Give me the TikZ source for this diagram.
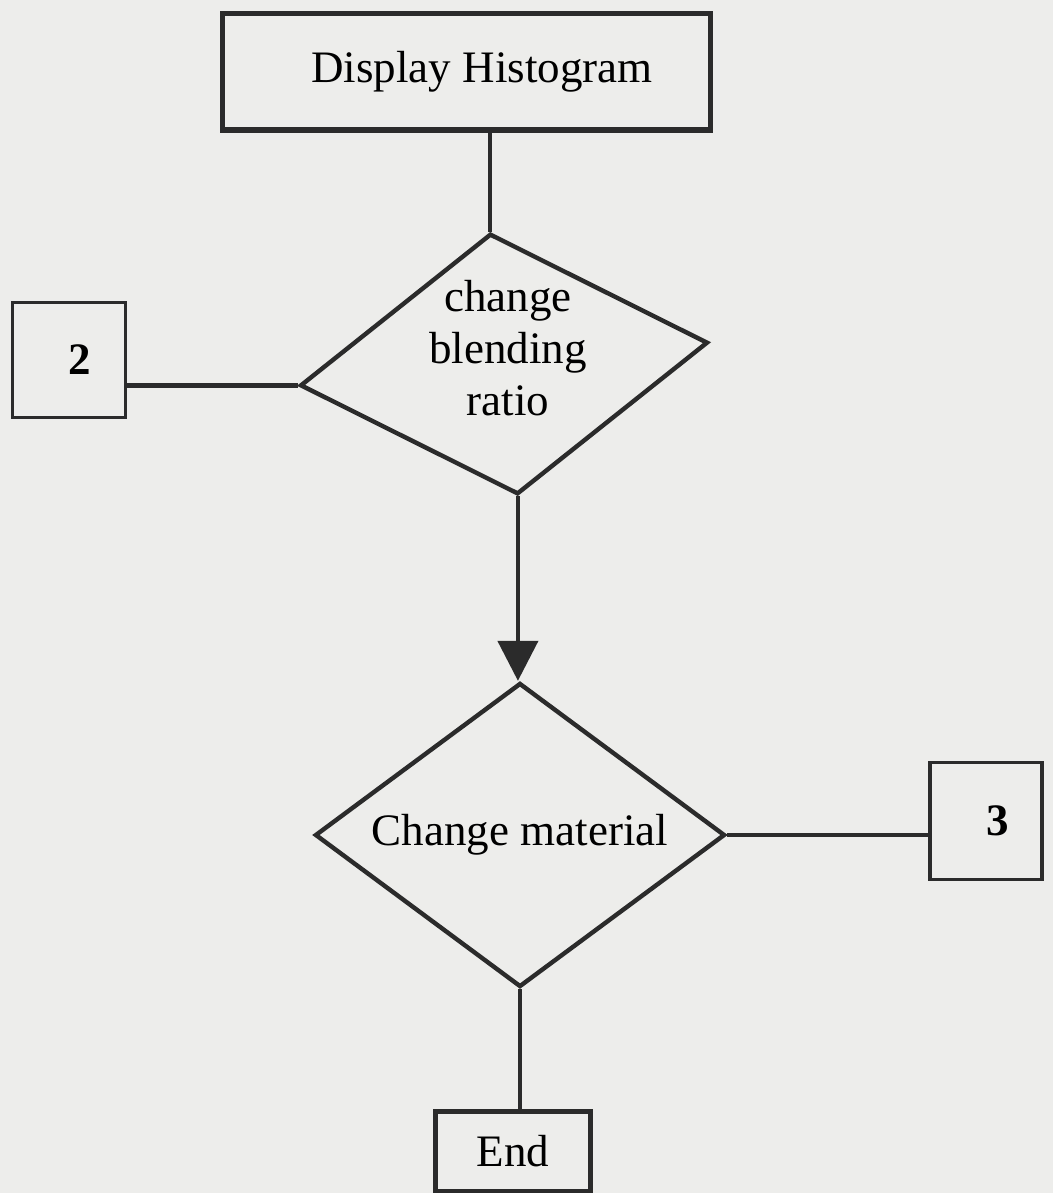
\documentclass[tikz,border=0pt]{standalone}
\usepackage{fontspec}
\setmainfont{Liberation Serif}
\usetikzlibrary{shapes.geometric,arrows.meta}
\definecolor{ink}{HTML}{2B2B2B}
\definecolor{paper}{HTML}{EDEDEB}
\tikzset{>={Triangle[width=20pt,length=20pt]}}
\tikzset{
  txt/.style={font=\fontsize{22.5}{26}\selectfont},
  box/.style={draw=ink, line width=2.5pt, inner sep=0pt, txt},
  numbox/.style={draw=ink, line width=1.8pt, inner sep=0pt, txt, font=\fontsize{22.5}{26}\selectfont\bfseries},
  decision/.style={diamond, aspect=1.4, draw=ink, line width=2.2pt, inner sep=0pt, txt},
  conn/.style={draw=ink, line width=2.2pt}
}

\begin{document}
\begin{tikzpicture}[x=0.5pt,y=-0.5pt]
  \fill[paper] (0,0) rectangle (1053,1193);
  \useasboundingbox (0,0) rectangle (1053,1193);

  \node[box, minimum width=244pt, minimum height=58pt] (disp) at (466,72) {\hspace*{16pt}Display Histogram};
  \node[decision, rotate=6, minimum width=205pt, minimum height=131pt] (blend) at (504,364) {};
  \node[txt, align=center] (blendtxt) at (508,348) {change\\blending\\ratio};
  \node[numbox, minimum width=56.5pt, minimum height=57.5pt] (two) at (69,360) {\hphantom{0}2};
  \node[decision, minimum width=205pt, minimum height=152pt] (mat) at (520,835) {Change material};
  \node[numbox, minimum width=56pt, minimum height=58.5pt] (three) at (986,821) {\hphantom{0}3};
  \node[box, minimum width=77.5pt, minimum height=40pt] (end) at (513,1151) {End};

  \draw[conn] (disp.south -| blend.north) -- (blend.north);
  \draw[conn, line width=2.6pt] (blend.west) -- (blend.west -| two.east);
  \draw[conn, ->] (blend.south) -- (blend.south |- mat.north);
  \draw[conn] (mat.east) -- (mat.east -| three.west);
  \draw[conn] (mat.south) -- (mat.south |- end.north);
\end{tikzpicture}
\end{document}
